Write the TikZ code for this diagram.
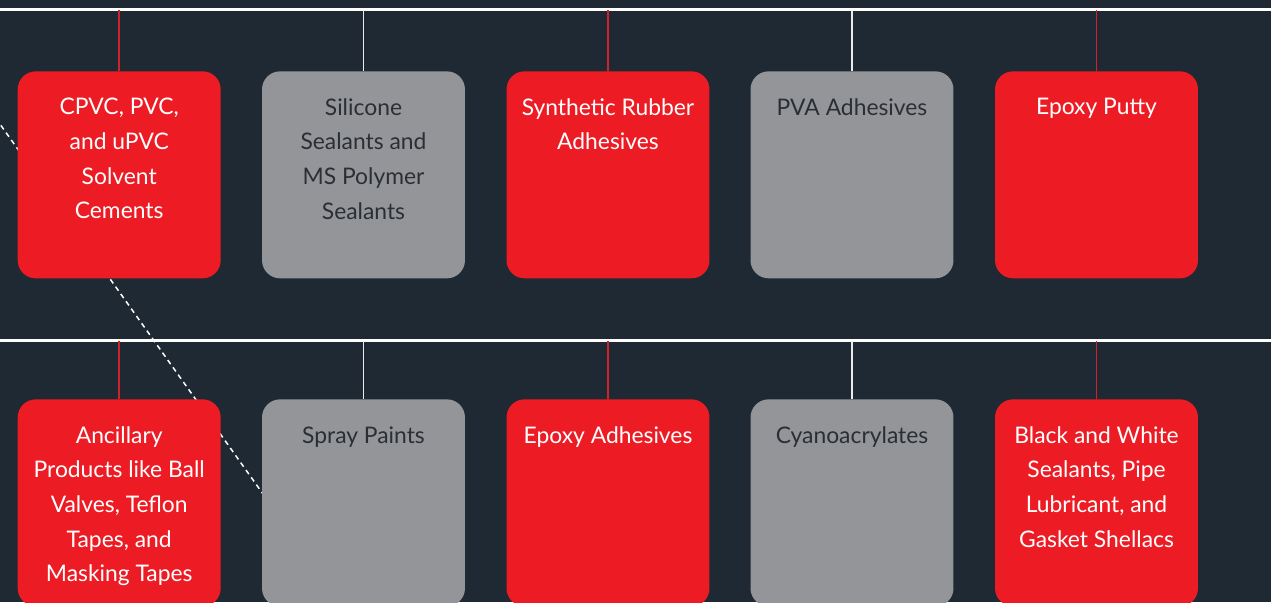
\documentclass[tikz,border=0pt]{standalone}
\usepackage{fontspec}
\setmainfont{Lato}
\definecolor{bgdark}{HTML}{1F2933}
\definecolor{boxred}{HTML}{ED1C24}
\definecolor{boxgray}{HTML}{939598}
\definecolor{linkred}{HTML}{D0222A}
\definecolor{textdark}{HTML}{2B2F35}
\begin{document}
\begin{tikzpicture}[x=0.02cm,y=-0.02cm]\tikzstyle{every node}=[font=\fontsize{13}{19.7}\selectfont, inner sep=0pt]
\tikzstyle{redbox}=[fill=boxred, rounded corners=0.36cm, minimum width=4.06cm, minimum height=4.14cm, anchor=north]
\tikzstyle{graybox}=[fill=boxgray, rounded corners=0.36cm, minimum width=4.06cm, minimum height=4.14cm, anchor=north]
\tikzstyle{redtext}=[text=white, align=center, anchor=north]
\tikzstyle{graytext}=[text=textdark, align=center, anchor=north]
\tikzstyle{redlink}=[draw=linkred, line width=1pt]
\tikzstyle{graylink}=[draw=white!92!black, line width=0.85pt]
\tikzstyle{rail}=[draw=white, line width=1.2pt]
% canvas
  \useasboundingbox (0,0) rectangle (1271,602);
  \clip (0,0) rectangle (1271,602);
  \fill[bgdark] (0,0) rectangle (1271,602);
% rails
  \coordinate (toprail) at (0,9.5);
  \coordinate (toprailend) at (1271,9.5);
  \coordinate (midrail) at (0,340.5);
  \coordinate (midrailend) at (1271,340.5);
  \draw[rail] (toprail) -- (toprailend);
  \draw[rail] (midrail) -- (midrailend);
% dashed diagonal
  \coordinate (dashstart) at (-20,96);
  \coordinate (dashend) at (300,546);
  \draw[white, line width=0.85pt, dash pattern=on 0.1cm off 0.08cm] (dashstart) -- (dashend);
% first row
  \node[redbox] (cpvc) at (119.2,71) {};
  \node[graybox] (silicone) at (363.5,71) {};
  \node[redbox] (rubber) at (608,71) {};
  \node[graybox] (pva) at (852,71) {};
  \node[redbox] (putty) at (1096.5,71) {};
  \node[redtext] (cpvclabel) at (119.2,98) {CPVC, PVC,\\and uPVC\\Solvent\\Cements};
  \node[graytext] (siliconelabel) at (363.5,98) {Silicone\\Sealants and\\MS Polymer\\Sealants};
  \node[redtext] (rubberlabel) at (608,98) {Synthetic Rubber\\Adhesives};
  \node[graytext] (pvalabel) at (852,98) {PVA Adhesives};
  \node[redtext] (puttylabel) at (1096.5,98) {Epoxy Putty};
  \draw[redlink] (cpvc.north) -- (cpvc.north |- toprail);
  \draw[graylink] (silicone.north) -- (silicone.north |- toprail);
  \draw[redlink] (rubber.north) -- (rubber.north |- toprail);
  \draw[graylink] (pva.north) -- (pva.north |- toprail);
  \draw[redlink] (putty.north) -- (putty.north |- toprail);
% second row
  \node[redbox] (ancillary) at (119.2,399) {};
  \node[graybox] (spray) at (363.5,399) {};
  \node[redbox] (epoxy) at (608,399) {};
  \node[graybox] (cyano) at (852,399) {};
  \node[redbox] (shellac) at (1096.5,399) {};
  \node[redtext] (ancillarylabel) at (119.2,426) {Ancillary\\Products like Ball\\Valves, Teflon\\Tapes, and\\Masking Tapes};
  \node[graytext] (spraylabel) at (363.5,426) {Spray Paints};
  \node[redtext] (epoxylabel) at (608,426) {Epoxy Adhesives};
  \node[graytext] (cyanolabel) at (852,426) {Cyanoacrylates};
  \node[redtext] (shellaclabel) at (1096.5,426) {Black and White\\Sealants, Pipe\\Lubricant, and\\Gasket Shellacs};
  \draw[redlink] (ancillary.north) -- (ancillary.north |- midrail);
  \draw[graylink] (spray.north) -- (spray.north |- midrail);
  \draw[redlink] (epoxy.north) -- (epoxy.north |- midrail);
  \draw[graylink] (cyano.north) -- (cyano.north |- midrail);
  \draw[redlink] (shellac.north) -- (shellac.north |- midrail);
\end{tikzpicture}
\end{document}
